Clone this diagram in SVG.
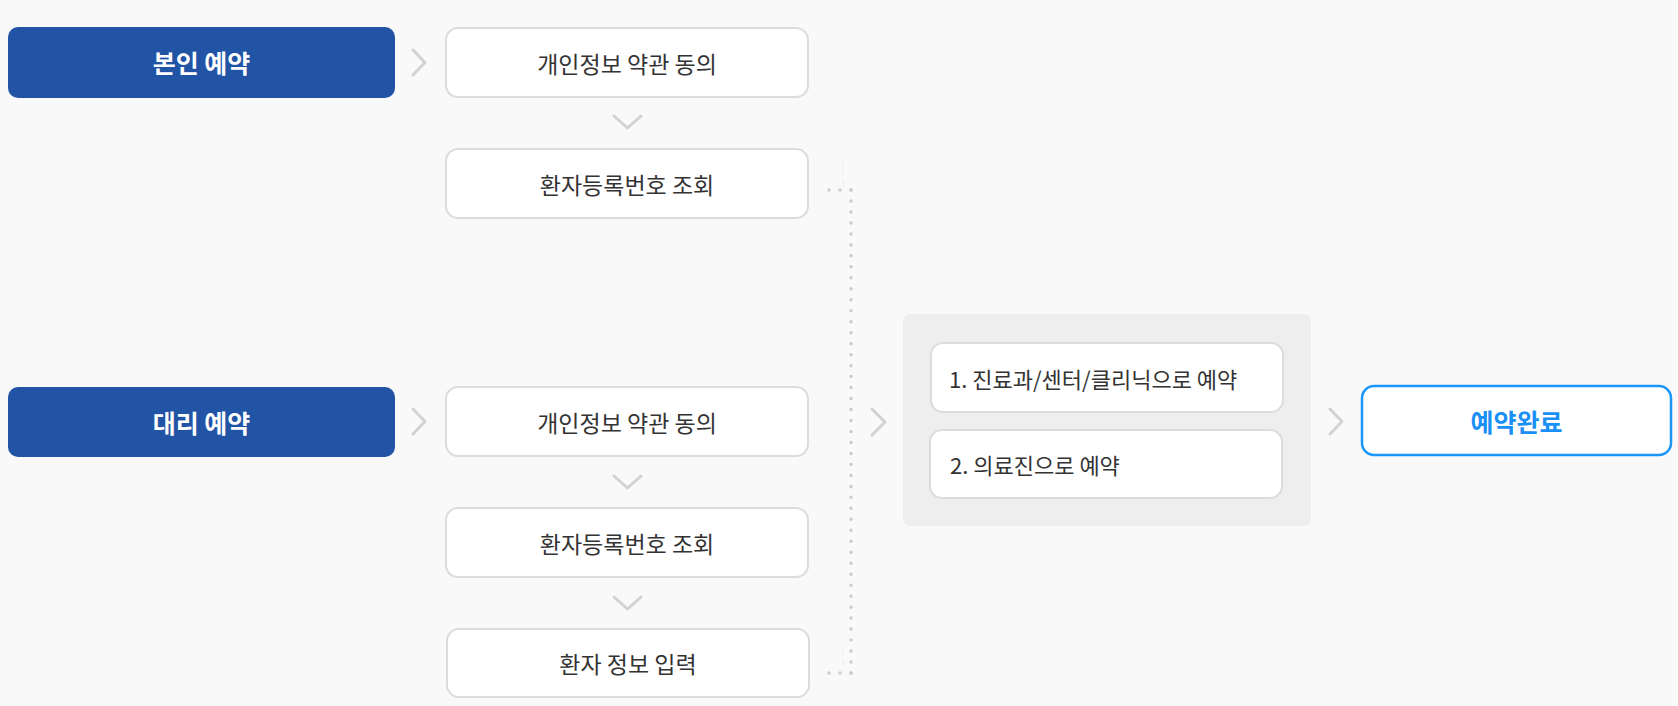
<svg xmlns="http://www.w3.org/2000/svg" width="1678" height="706" viewBox="0 0 1678 706">
<style>
text{font-family:"Noto Sans CJK KR","Noto Sans",sans-serif;}
.blue rect{fill:#2254a6;}
.blue text{fill:#ffffff;font-size:25px;font-weight:bold;text-anchor:middle;dominant-baseline:central;}
.step rect{fill:#ffffff;stroke:#dcdcdc;stroke-width:2;}
.step text{fill:#333333;font-size:23px;text-anchor:middle;dominant-baseline:central;}
.opt text{text-anchor:start;font-size:22px;}
.chev{fill:none;stroke:#d2d2d2;stroke-width:3;stroke-linecap:round;stroke-linejoin:round;}
.dots{fill:none;stroke:#cccccc;stroke-width:3.5;stroke-linecap:round;stroke-dasharray:0 10.977;}
.faint{fill:none;stroke:#ececec;stroke-width:1;stroke-dasharray:6 4;}
</style>
<rect width="1678" height="706" fill="#f9f9f9"/>
<g id="self" class="blue"><rect x="8" y="27" width="387" height="71" rx="10"/><text x="201.5" y="62">본인 예약</text></g>
<g id="proxy" class="blue"><rect x="8" y="387" width="387" height="70" rx="10"/><text x="201.5" y="422">대리 예약</text></g>
<g id="self-consent" class="step"><rect x="446" y="28" width="362" height="69" rx="12"/><text x="627" y="62.5">개인정보 약관 동의</text></g>
<g id="self-lookup" class="step"><rect x="446" y="149" width="362" height="69" rx="12"/><text x="627" y="183.5">환자등록번호 조회</text></g>
<g id="proxy-consent" class="step"><rect x="446" y="387" width="362" height="69" rx="12"/><text x="627" y="421.5">개인정보 약관 동의</text></g>
<g id="proxy-lookup" class="step"><rect x="446" y="508" width="362" height="69" rx="12"/><text x="627" y="542.5">환자등록번호 조회</text></g>
<g id="proxy-input" class="step"><rect x="447" y="629" width="362" height="68" rx="12"/><text x="628" y="663">환자 정보 입력</text></g>
<g id="options">
<rect x="903" y="314" width="408" height="212" rx="7" fill="#eeeeee"/>
<g id="opt1" class="step opt"><rect x="931" y="343" width="352" height="69" rx="12"/><text x="949" y="377.5">1. 진료과/센터/클리닉으로 예약</text></g>
<g id="opt2" class="step opt"><rect x="930" y="430" width="352" height="68" rx="12"/><text x="950" y="464">2. 의료진으로 예약</text></g>
</g>
<g id="done"><rect x="1362" y="386" width="309" height="69" rx="12" fill="#ffffff" stroke="#1a96fb" stroke-width="2.5"/><text x="1516.5" y="420.5" fill="#1a8ff5" font-size="25" font-weight="bold" text-anchor="middle" dominant-baseline="central">예약완료</text></g>
<g id="connectors">
<polyline class="chev" points="413,50 425,62.5 413,75"/>
<polyline class="chev" points="413,409 425,421.5 413,434"/>
<polyline class="chev" points="614,116 627.5,128 641,116"/>
<polyline class="chev" points="614,476 627.5,488 641,476"/>
<polyline class="chev" points="614,597 627.5,609 641,597"/>
<polyline class="chev" points="872,409 885,422 872,435"/>
<polyline class="chev" points="1330,409 1342,421.5 1330,434"/>
<path class="faint" d="M843,160 V186 M843,650 V673"/>
<path class="dots" d="M829,190 H851"/>
<path class="dots" d="M851,190 V674"/>
<path class="dots" d="M829,673 H851"/>
</g>
</svg>
